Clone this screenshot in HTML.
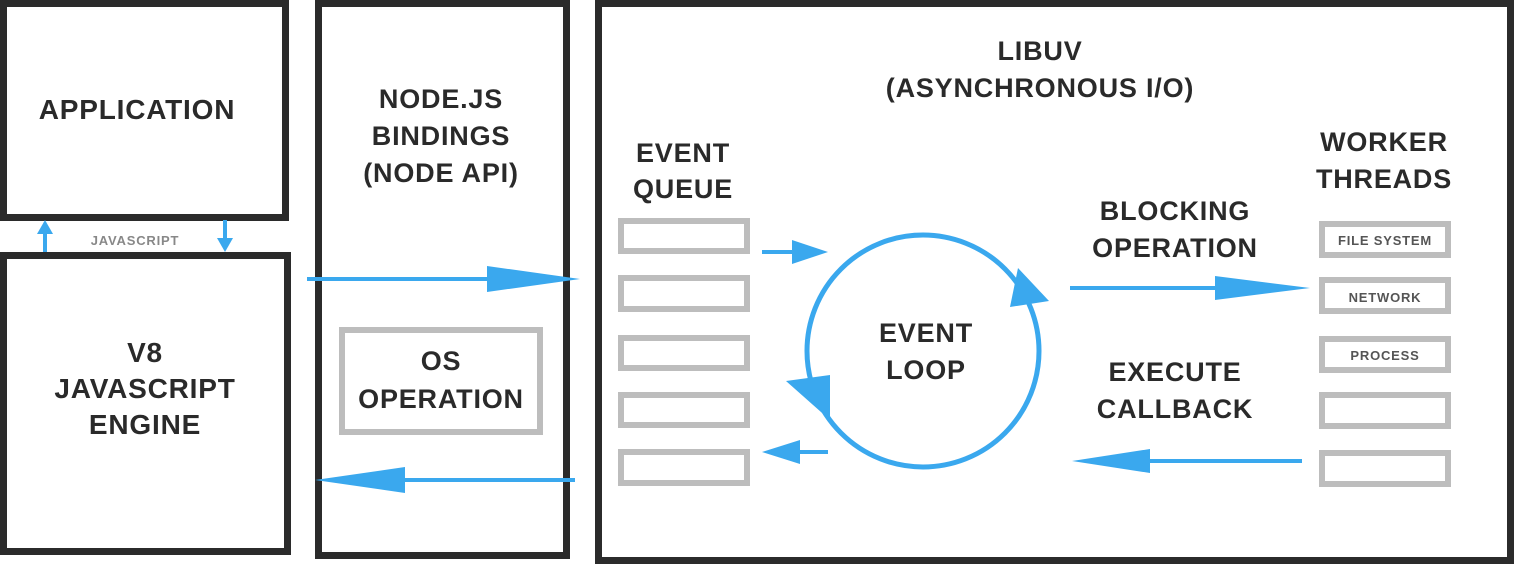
<!DOCTYPE html>
<html><head><style>
body{margin:0;background:#fff;}
svg text{font-family:"Liberation Sans",sans-serif;font-weight:bold;fill:#2a2a2a;text-anchor:middle;letter-spacing:0.8px}
</style></head><body>
<svg width="1516" height="565" viewBox="0 0 1516 565">
<g fill="none" stroke="#2b2b2b" stroke-width="7">
<rect x="3.5" y="3.5" width="282" height="214"/>
<rect x="3.5" y="255.5" width="284" height="296"/>
<rect x="318.5" y="3.5" width="248" height="552"/>
<rect x="598.5" y="3.5" width="912" height="557"/>
</g>
<g fill="none" stroke="#bdbdbd" stroke-width="6">
<rect x="342" y="330" width="198" height="102"/>
<rect x="621" y="221" width="126" height="30"/>
<rect x="621" y="278" width="126" height="31"/>
<rect x="621" y="338" width="126" height="30"/>
<rect x="621" y="395" width="126" height="30"/>
<rect x="621" y="452" width="126" height="31"/>
<rect x="1322" y="224" width="126" height="31"/>
<rect x="1322" y="280" width="126" height="31"/>
<rect x="1322" y="339" width="126" height="31"/>
<rect x="1322" y="395" width="126" height="31"/>
<rect x="1322" y="453" width="126" height="31"/>
</g>
<text x="137" y="119" font-size="28">APPLICATION</text>
<text x="135" y="245" font-size="13" style="fill:#888">JAVASCRIPT</text>
<text x="145" y="362" font-size="28">V8</text>
<text x="145" y="398" font-size="28">JAVASCRIPT</text>
<text x="145" y="434" font-size="28">ENGINE</text>
<text x="441" y="108" font-size="27">NODE.JS</text>
<text x="441" y="145" font-size="27">BINDINGS</text>
<text x="441" y="182" font-size="27">(NODE API)</text>
<text x="441" y="370" font-size="27">OS</text>
<text x="441" y="408" font-size="27">OPERATION</text>
<text x="1040" y="60" font-size="27">LIBUV</text>
<text x="1040" y="97" font-size="27">(ASYNCHRONOUS I/O)</text>
<text x="683" y="162" font-size="27">EVENT</text>
<text x="683" y="198" font-size="27">QUEUE</text>
<text x="1384" y="151" font-size="27">WORKER</text>
<text x="1384" y="188" font-size="27">THREADS</text>
<text x="1175" y="220" font-size="27">BLOCKING</text>
<text x="1175" y="257" font-size="27">OPERATION</text>
<text x="1175" y="381" font-size="27">EXECUTE</text>
<text x="1175" y="418" font-size="27">CALLBACK</text>
<text x="926" y="342" font-size="27">EVENT</text>
<text x="926" y="379" font-size="27">LOOP</text>
<text x="1385" y="245" font-size="13" style="fill:#555">FILE SYSTEM</text>
<text x="1385" y="302" font-size="13" style="fill:#555">NETWORK</text>
<text x="1385" y="360" font-size="13" style="fill:#555">PROCESS</text>
<g stroke="#3aa8ee" stroke-width="4" fill="none">
<line x1="45" y1="252" x2="45" y2="230"/>
<line x1="225" y1="220" x2="225" y2="242"/>
<line x1="307" y1="279" x2="490" y2="279"/>
<line x1="575" y1="480" x2="400" y2="480"/>
<line x1="762" y1="252" x2="795" y2="252"/>
<line x1="828" y1="452" x2="795" y2="452"/>
<line x1="1070" y1="288" x2="1220" y2="288"/>
<line x1="1302" y1="461" x2="1145" y2="461"/>
<circle cx="923" cy="351" r="116" stroke-width="5"/>
</g>
<g fill="#3aa8ee">
<polygon points="45,220 37,234 53,234"/>
<polygon points="225,252 217,238 233,238"/>
<polygon points="580,279 487,266 487,292"/>
<polygon points="315,480 405,467 405,493"/>
<polygon points="828,252 792,240 792,264"/>
<polygon points="762,452 800,440 800,464"/>
<polygon points="1310,288 1215,276 1215,300"/>
<polygon points="1072,461 1150,449 1150,473"/>
<polygon points="1049,301 1010,307 1018,268"/>
<polygon points="830,420 786,381 830,375"/>
</g>
</svg>
</body></html>
